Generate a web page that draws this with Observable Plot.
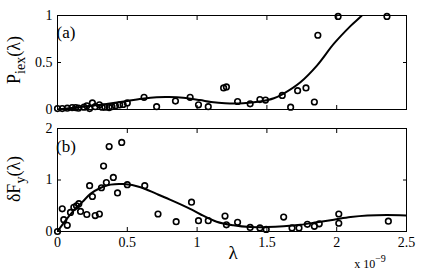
<!DOCTYPE html>
<html><head><meta charset="utf-8">
<script src="https://cdn.jsdelivr.net/npm/d3@7"></script>
<script src="https://cdn.jsdelivr.net/npm/@observablehq/plot@0.6"></script>
<style>
body{margin:0;background:#fff;}
#c{position:relative;width:436px;height:271px;}
#c svg{position:absolute;left:0;}
#c svg, #c svg text{font-family:'Liberation Serif','Times New Roman','Nimbus Roman','DejaVu Serif',serif !important;}
</style></head><body><div id="c"></div>
<script>
// x values in units of 1e-9
const aX = [0.0,0.034,0.07,0.105,0.13,0.15,0.19,0.21,0.23,0.25,0.27,0.30,0.32,0.34,0.37,0.39,0.415,0.445,0.47,0.50,0.62,0.71,0.845,0.95,1.01,1.08,1.19,1.21,1.29,1.38,1.45,1.49,1.61,1.67,1.72,1.78,1.84,1.865,2.01,2.36];
const aY = [0.01,0.01,0.014,0.02,0.02,0.014,0.025,0.04,0.01,0.07,0.03,0.05,0.025,0.025,0.02,0.03,0.04,0.05,0.053,0.07,0.13,0.03,0.09,0.13,0.05,0.03,0.23,0.24,0.085,0.06,0.106,0.10,0.15,0.025,0.2,0.23,0.08,0.79,0.99,0.99];
const aFitX = [0,0.1,0.24,0.31,0.4,0.5,0.62,0.71,0.8,0.9,1.02,1.1,1.2,1.33,1.45,1.55,1.62,1.74,1.86,1.98,2.10,2.18,2.3];
const aFitY = [0,0.015,0.04,0.05,0.068,0.09,0.118,0.13,0.132,0.125,0.1,0.08,0.066,0.066,0.085,0.12,0.17,0.29,0.47,0.70,0.89,1.0,1.2];

const bX = [0,0.034,0.045,0.07,0.093,0.117,0.136,0.153,0.165,0.21,0.23,0.25,0.27,0.30,0.315,0.33,0.35,0.37,0.40,0.43,0.46,0.50,0.625,0.72,0.85,0.96,1.01,1.08,1.20,1.21,1.29,1.38,1.45,1.495,1.62,1.68,1.73,1.79,1.84,1.875,2.015,2.015,2.37];
const bY = [0,0.44,0.23,0.12,0.37,0.47,0.50,0.54,0.39,0.33,0.89,0.68,0.31,0.34,0.85,1.27,0.95,1.65,1.05,0.75,1.73,0.91,0.89,0.34,0.19,0.57,0.21,0.21,0.30,0.13,0.18,0.08,0.07,0.04,0.28,0.07,0.07,0.14,0.10,0.15,0.34,0.16,0.20];
const bFitX = [0,0.057,0.117,0.177,0.236,0.31,0.38,0.475,0.595,0.71,0.83,0.95,1.02,1.14,1.26,1.38,1.50,1.62,1.74,1.86,1.98,2.10,2.22,2.36,2.5];
const bFitY = [0,0.21,0.41,0.57,0.73,0.85,0.91,0.92,0.86,0.73,0.59,0.44,0.34,0.19,0.12,0.085,0.085,0.10,0.13,0.18,0.23,0.28,0.31,0.32,0.31];

const xTicks = [0,0.5,1,1.5,2,2.5];
const aTicks = [0,0.5,1];
const bTicks = [0,1,2];

const ptsA = aX.map((x,i)=>({x,y:aY[i]}));
const fitA = aFitX.map((x,i)=>({x,y:aFitY[i]}));
const ptsB = bX.map((x,i)=>({x,y:bY[i]}));
const fitB = bFitX.map((x,i)=>({x,y:bFitY[i]}));

const common = {width:436, marginLeft:57, marginRight:30, style:{fontSize:"14px", color:"#000", background:"transparent", overflow:"visible"}};

function panel(pts, fit, yDomain, yTicks, opts, showX) {
  return Plot.plot({
    ...common, ...opts,
    x:{domain:[0,2.5]},
    y:{domain:yDomain},
    marks:[
      Plot.axisY(yTicks,{anchor:"left", tickSize:-4, tickPadding:9, label:null, tickFormat:d=>String(d)}),
      Plot.axisY(yTicks,{anchor:"right", tickSize:-4, tickFormat:()=>"" , label:null}),
      Plot.axisX(xTicks,{anchor:"bottom", tickSize:-4, tickPadding: showX?10:0, label:null, tickFormat: showX ? (d=>String(d)) : ()=>""}),
      Plot.axisX(xTicks,{anchor:"top", tickSize:-4, tickFormat:()=>"", label:null}),
      Plot.line(fit,{x:"x",y:"y",stroke:"#000",strokeWidth:2,curve:"catmull-rom",clip:true}),
      Plot.dot(pts,{x:"x",y:"y",r:2.8,stroke:"#000",strokeWidth:1.6,fill:"none"}),
      Plot.frame({stroke:"#000", strokeWidth:1})
    ]
  });
}

const c = document.getElementById("c");
const p1 = panel(ptsA, fitA, [0,1], aTicks, {height:120, marginTop:15, marginBottom:11}, false);
p1.style.top = "0px";
const p2 = panel(ptsB, fitB, [0,2], bTicks, {height:151, marginTop:8, marginBottom:40}, true);
p2.style.top = "120px";
c.appendChild(p1); c.appendChild(p2);

function ylabel(svg, x, y, main, sub) {
  const t = d3.select(svg).append("text")
    .attr("transform", `translate(${x},${y}) rotate(-90)`)
    .attr("text-anchor","middle")
    .attr("font-size", 18).attr("fill","#000");
  t.append("tspan").text(main);
  t.append("tspan").attr("font-size",14).attr("dy",5).text(sub);
  t.append("tspan").attr("dy",-5).text("(λ)");
}
ylabel(p1, 20, 60, "P", "iex");
ylabel(p2, 20, 59, "δF", "y");

d3.select(p1).append("text").attr("x",66).attr("y",38).attr("font-size",17).text("(a)");
d3.select(p2).append("text").attr("x",66).attr("y",32).attr("font-size",17).text("(b)");
d3.select(p2).append("text").attr("x",233).attr("y",139).attr("text-anchor","middle").attr("font-size",19).text("λ");
const m = d3.select(p2).append("text").attr("x",370).attr("y",148).attr("font-size",12);
m.append("tspan").text("x 10");
m.append("tspan").attr("dy",-6).attr("font-size",10).text("−9");
</script></body></html>
